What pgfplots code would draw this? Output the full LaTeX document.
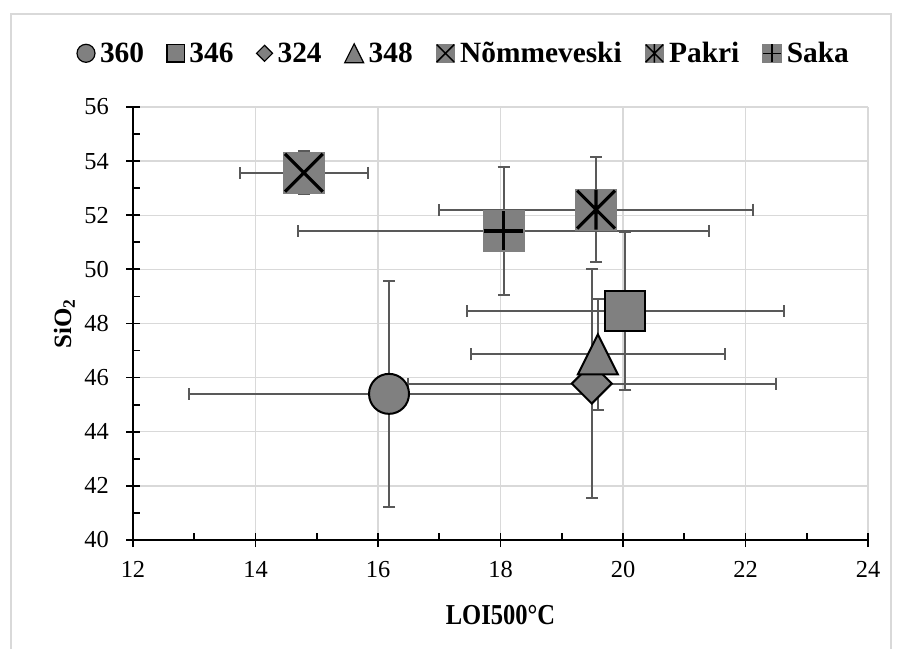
\documentclass[border=0pt]{standalone}
\usepackage{fontspec}
\setmainfont{Liberation Serif}
\newfontfamily\condfont{Liberation Serif}[FakeStretch=0.85]
\usepackage{pgfplots}
\pgfplotsset{compat=1.18}
\definecolor{markgray}{HTML}{808080}
\definecolor{errgray}{HTML}{595959}
\definecolor{gridgray}{HTML}{D9D9D9}

\pgfdeclareplotmark{dia}{%
  \pgfpathmoveto{\pgfqpoint{0pt}{\pgfplotmarksize}}%
  \pgfpathlineto{\pgfqpoint{\pgfplotmarksize}{0pt}}%
  \pgfpathlineto{\pgfqpoint{0pt}{-\pgfplotmarksize}}%
  \pgfpathlineto{\pgfqpoint{-\pgfplotmarksize}{0pt}}%
  \pgfpathclose
  \pgfusepathqfillstroke}
\pgfdeclareplotmark{tri}{%
  \pgfpathmoveto{\pgfqpoint{0pt}{\pgfplotmarksize}}%
  \pgfpathlineto{\pgfqpoint{\pgfplotmarksize}{-\pgfplotmarksize}}%
  \pgfpathlineto{\pgfqpoint{-\pgfplotmarksize}{-\pgfplotmarksize}}%
  \pgfpathclose
  \pgfusepathqfillstroke}
\pgfdeclareplotmark{sqx}{%
  \pgfpathrectangle{\pgfqpoint{-\pgfplotmarksize}{-\pgfplotmarksize}}{\pgfqpoint{2\pgfplotmarksize}{2\pgfplotmarksize}}%
  \pgfusepathqfill
  \pgfsetstrokecolor{black}\pgfsetlinewidth{0.15\pgfplotmarksize}%
  \pgfpathmoveto{\pgfqpoint{-0.9\pgfplotmarksize}{-0.9\pgfplotmarksize}}%
  \pgfpathlineto{\pgfqpoint{0.9\pgfplotmarksize}{0.9\pgfplotmarksize}}%
  \pgfpathmoveto{\pgfqpoint{-0.9\pgfplotmarksize}{0.9\pgfplotmarksize}}%
  \pgfpathlineto{\pgfqpoint{0.9\pgfplotmarksize}{-0.9\pgfplotmarksize}}%
  \pgfusepathqstroke}
\pgfdeclareplotmark{sqast}{%
  \pgfpathrectangle{\pgfqpoint{-\pgfplotmarksize}{-\pgfplotmarksize}}{\pgfqpoint{2\pgfplotmarksize}{2\pgfplotmarksize}}%
  \pgfusepathqfill
  \pgfsetstrokecolor{black}\pgfsetlinewidth{0.15\pgfplotmarksize}%
  \pgfpathmoveto{\pgfqpoint{-0.9\pgfplotmarksize}{-0.9\pgfplotmarksize}}%
  \pgfpathlineto{\pgfqpoint{0.9\pgfplotmarksize}{0.9\pgfplotmarksize}}%
  \pgfpathmoveto{\pgfqpoint{-0.9\pgfplotmarksize}{0.9\pgfplotmarksize}}%
  \pgfpathlineto{\pgfqpoint{0.9\pgfplotmarksize}{-0.9\pgfplotmarksize}}%
  \pgfpathmoveto{\pgfqpoint{0pt}{-0.95\pgfplotmarksize}}%
  \pgfpathlineto{\pgfqpoint{0pt}{0.95\pgfplotmarksize}}%
  \pgfusepathqstroke}
\pgfdeclareplotmark{sqplus}{%
  \pgfpathrectangle{\pgfqpoint{-\pgfplotmarksize}{-\pgfplotmarksize}}{\pgfqpoint{2\pgfplotmarksize}{2\pgfplotmarksize}}%
  \pgfusepathqfill
  \pgfsetstrokecolor{black}\pgfsetlinewidth{0.15\pgfplotmarksize}%
  \pgfpathmoveto{\pgfqpoint{-0.93\pgfplotmarksize}{0pt}}%
  \pgfpathlineto{\pgfqpoint{0.93\pgfplotmarksize}{0pt}}%
  \pgfpathmoveto{\pgfqpoint{0pt}{-0.93\pgfplotmarksize}}%
  \pgfpathlineto{\pgfqpoint{0pt}{0.93\pgfplotmarksize}}%
  \pgfusepathqstroke}

\pgfplotsset{
  lim/.style={legend image code/.code={\draw[##1, mark size=#1, every mark/.append style={line width=1.2bp}] plot coordinates {(0bp,0bp)};}},
  eb/.style={only marks,
    error bars/x dir=both, error bars/x explicit,
    error bars/y dir=both, error bars/y explicit,
    error bars/error bar style={line width=2bp, errgray},
    error bars/error mark options={rotate=90, line width=2bp, errgray, mark size=6bp}},
  mk/.style={mark options={fill=markgray, draw=black, line width=2bp}},
  mkb/.style={mark options={fill=markgray, draw=none}},
}

\begin{document}
\begin{tikzpicture}
\begin{axis}[name=ax, at={(0bp,0bp)}, anchor=south west,
  width=735bp, height=433bp, scale only axis,
  xmin=12, xmax=24, ymin=40, ymax=56,
  xtick={12,14,...,24}, ytick={40,42,...,56},
  axis lines*=left, axis line style={line width=1.75bp, black},
  grid=major, grid style={gridgray, line width=1.3bp},
  tick align=center, major tick length=14bp,
  tick style={line width=1.75bp, black},
  extra x ticks={13,15,...,23}, extra y ticks={41,43,...,55},
  extra x tick labels={}, extra y tick labels={},
  extra tick style={grid=none, tick align=inside, major tick length=7bp},
  /pgf/number format/assume math mode=true,
  tick label style={font=\fontsize{24.5}{28}\selectfont},
  xticklabel style={anchor=north, inner sep=0pt, yshift=-14bp},
  yticklabel style={anchor=east, inner sep=0pt, xshift=-17bp},
  xlabel={\condfont\fontsize{29}{32}\selectfont\bfseries LOI500°C},
  ylabel={\fontsize{25}{28}\selectfont\bfseries SiO\textsubscript{2}},
  every axis x label/.style={at={(axis description cs:0.5,-0.1501)}, anchor=north, inner sep=0pt},
  every axis y label/.style={at={(axis description cs:-0.0789,0.5)}, rotate=90, anchor=south, inner sep=0pt},
  legend columns=-1,
  legend style={at={(axis description cs:-0.07619,1.1240)}, anchor=west,
    draw=none, fill=none, inner sep=0pt, outer sep=0pt,
    font=\fontsize{29.5}{34}\selectfont\bfseries,
    nodes={inner sep=0pt},
    /tikz/every even column/.append style={column sep=23bp},
    /tikz/every odd column/.append style={column sep=5bp}},
]
\addplot[mark=*, mark size=20bp, mk, lim=9bp, eb] coordinates {(16.18,45.40) +- (3.27,4.18)};
\addlegendentry{360}
\addplot[mark=square*, mark size=20bp, mk, lim=8.7bp, eb] coordinates {(20.04,48.46) +- (2.59,2.93)};
\addlegendentry{346}
\addplot[mark=dia, mark size=20bp, mk, lim=8bp, eb] coordinates {(19.49,45.78) +- (3.00,4.22)};
\addlegendentry{324}
\addplot[mark=tri, mark size=20bp, mk, lim=9.5bp, eb] coordinates {(19.59,46.86) +- (2.07,2.06)};
\addlegendentry{348}
\addplot[mark=sqx, mark size=21bp, mkb, lim=9.7bp, eb] coordinates {(14.79,53.57) +- (1.05,0.80)};
\addlegendentry{Nõmmeveski}
\addplot[mark=sqast, mark size=21bp, mkb, lim=9.7bp, eb] coordinates {(19.56,52.21) +- (2.56,1.93)};
\addlegendentry{Pakri}
\addplot[mark=sqplus, mark size=21bp, mkb, lim=9.7bp, eb] coordinates {(18.05,51.42) +- (3.35,2.36)};
\addlegendentry{Saka}
\end{axis}
\pgfresetboundingbox
\useasboundingbox ([shift={(-133bp,-109bp)}]ax.south west) rectangle ([shift={(769bp,540bp)}]ax.south west);
\draw[gridgray, line width=2bp] ([shift={(-122bp,-140bp)}]ax.south west) rectangle ([shift={(758bp,526bp)}]ax.south west);
\end{tikzpicture}
\end{document}
